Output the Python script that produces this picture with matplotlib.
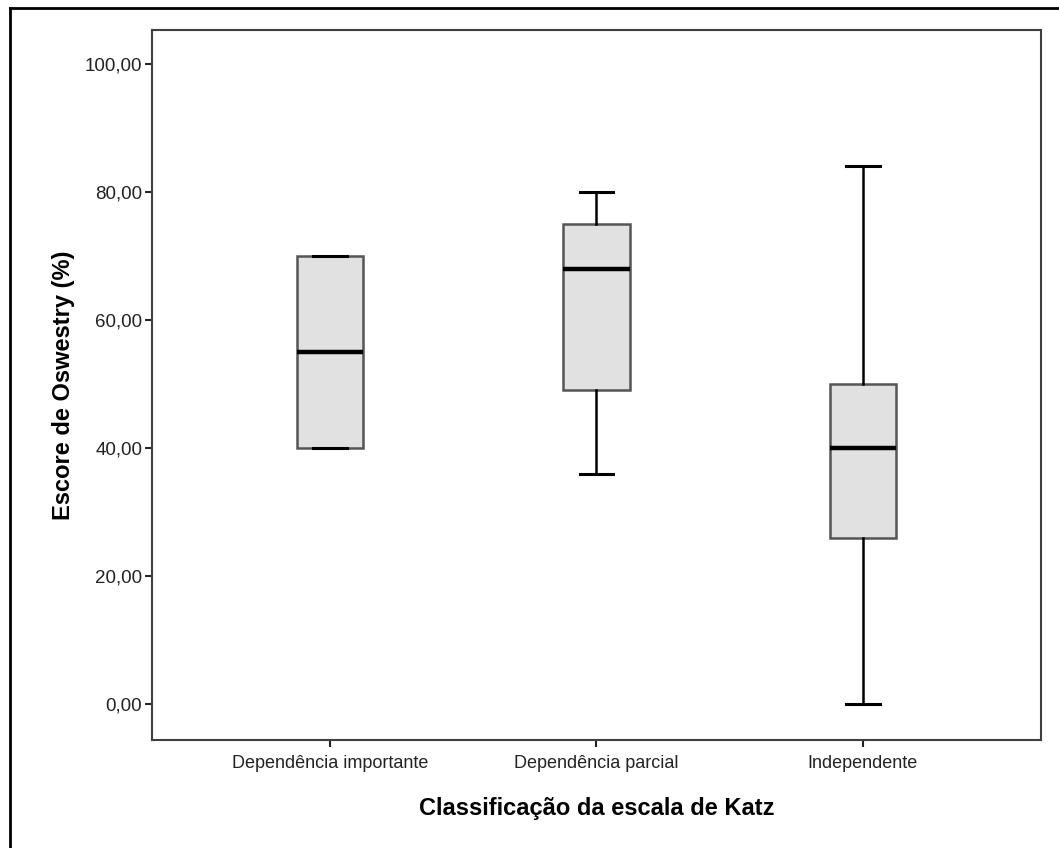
import matplotlib.pyplot as plt
from matplotlib.lines import Line2D

# --- dados ---
categorias = ['Dependência importante', 'Dependência parcial', 'Independente']
minimos = [40, 36, 0]
q1 = [40, 49, 26]
medianas = [55, 68, 40]
q3 = [70, 75, 50]
maximos = [70, 80, 84]
yticks = [0, 20, 40, 60, 80, 100]

plt.rcParams['font.family'] = ['Liberation Sans', 'DejaVu Sans']

fig = plt.figure(figsize=(10.59, 8.48), dpi=100)
ax = fig.add_axes([0.1435, 0.1274, 0.8395, 0.8372])

stats = []
for i, nome in enumerate(categorias):
    stats.append({
        'label': nome, 'whislo': minimos[i], 'q1': q1[i], 'med': medianas[i],
        'q3': q3[i], 'whishi': maximos[i], 'fliers': [],
    })

ax.bxp(stats, positions=[1, 2, 3], widths=0.25, capwidths=0.125,
       showfliers=False, patch_artist=True,
       boxprops=dict(facecolor='#e1e1e1', edgecolor='#555555', linewidth=1.8),
       medianprops=dict(color='black', linewidth=3.2),
       whiskerprops=dict(color='black', linewidth=1.8),
       capprops=dict(color='black', linewidth=2.2))

ax.set_xlim(0.332, 3.668)
ax.set_ylim(-5.6, 105.3)
ax.set_yticks(yticks)
ax.set_yticklabels([f'{v:.2f}'.replace('.', ',') for v in yticks])
ax.set_xticks([1, 2, 3])
ax.set_xticklabels(categorias)

for s in ax.spines.values():
    s.set_color('#404040')
    s.set_linewidth(1.5)
ax.tick_params(axis='both', colors='#222222', width=1.5,
               length=5, direction='out')
ax.tick_params(axis='y', labelsize=13.5, pad=2)
ax.tick_params(axis='x', labelsize=13, pad=6)

ax.set_xlabel('Classificação da escala de Katz', fontsize=17, fontweight='bold',
              labelpad=18)
ax.set_ylabel('Escore de Oswestry (%)', fontsize=17, fontweight='bold',
              labelpad=7)

# moldura externa (só borda superior e esquerda visíveis)
fig.add_artist(Line2D([9.5 / 1059, 9.5 / 1059], [0, 1 - 8 / 848],
                      transform=fig.transFigure, color='black', linewidth=2))
fig.add_artist(Line2D([9.5 / 1059, 1], [1 - 8 / 848, 1 - 8 / 848],
                      transform=fig.transFigure, color='black', linewidth=2))

fig.savefig('out.png', dpi=100)
